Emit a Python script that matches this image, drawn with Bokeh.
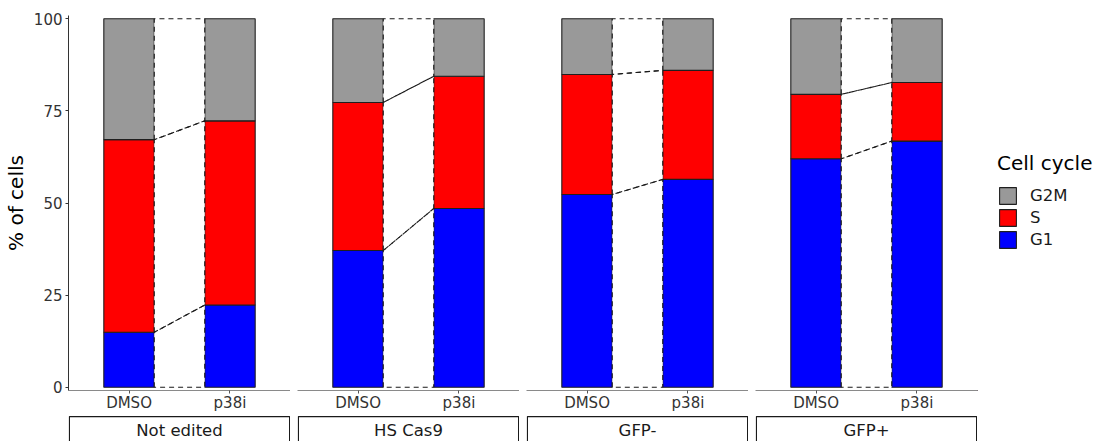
from bokeh.plotting import figure
from bokeh.layouts import row, column
from bokeh.models import Range1d, FixedTicker, Legend, LegendItem, ColumnDataSource
from bokeh.embed import file_html
from bokeh.resources import INLINE
from bokeh.core.properties import value

# ---- data -------------------------------------------------------------
panels = ["Not edited", "HS Cas9", "GFP-", "GFP+"]
treatments = ["DMSO", "p38i"]
phases = ["G1", "S", "G2M"]
phase_colors = ["#0000FF", "#FF0000", "#999999"]

# % of cells in each phase, [DMSO, p38i] per panel
g1_pct = [[14.9, 22.3], [37.1, 48.5], [52.3, 56.4], [62.0, 66.8]]
s_pct = [[52.3, 50.0], [40.2, 35.9], [32.6, 29.6], [17.5, 15.9]]
g2m_pct = [[32.8, 27.7], [22.7, 15.6], [15.1, 14.0], [20.5, 17.3]]

y_ticks = [0, 25, 50, 75, 100]

# ---- style ------------------------------------------------------------
FONT = "DejaVu Sans"
FRAME_W = 222
GAP = 7
LEFT = 68
LEGEND_W = 1100 - LEFT - 4 * FRAME_W - 3 * GAP
BAR_W = 0.5
PANEL_H = 415
STRIP_H = 441 - PANEL_H
BAR_LINE = "#1f1f1f"
x_pos = [i + 1 for i in range(len(treatments))]


def style_common(p):
    p.outline_line_color = None
    p.xgrid.visible = False
    p.ygrid.visible = False
    p.background_fill_color = "white"
    p.border_fill_color = "white"


def make_panel(k, left, show_y):
    p = figure(width=left + FRAME_W, height=PANEL_H,
               x_range=Range1d(0.4, 2.6), y_range=Range1d(-0.9, 100.9),
               output_backend="svg", toolbar_location=None,
               min_border_left=left, min_border_right=0,
               min_border_top=15, min_border_bottom=25,
               y_axis_location="left" if show_y else None)
    style_common(p)

    src = ColumnDataSource(dict(
        x=x_pos, G1=g1_pct[k], S=s_pct[k], G2M=g2m_pct[k]))
    p.vbar_stack(phases, x="x", width=BAR_W, color=phase_colors,
                 line_color=BAR_LINE, line_width=1.1, source=src)

    # flows between the two stacked bars
    xa = x_pos[0] + BAR_W / 2
    xb = x_pos[1] - BAR_W / 2
    layers = [g1_pct[k], s_pct[k], g2m_pct[k]]
    lo = [0.0, 0.0]
    xs, ys = [], []
    for layer in layers:
        hi = [lo[0] + layer[0], lo[1] + layer[1]]
        xs.append([xa, xa, xb, xb])
        ys.append([lo[0], hi[0], hi[1], lo[1]])
        lo = hi
    p.patches(xs, ys, fill_color="white", line_color=None)
    p.patches(xs, ys, fill_color=None, line_color="#1a1a1a",
              line_width=1.1, line_dash="5 4")

    # x axis
    p.xaxis.ticker = FixedTicker(ticks=x_pos)
    p.xaxis.major_label_overrides = {x: t for x, t in zip(x_pos, treatments)}
    p.xaxis.minor_tick_line_color = None
    p.xaxis.axis_line_color = "#8a8a8a"
    p.xaxis.axis_line_width = 1
    p.xaxis.major_tick_line_color = "#555555"
    p.xaxis.major_tick_in = 0
    p.xaxis.major_tick_out = 3
    p.xaxis.major_label_standoff = 0
    p.xaxis.major_label_text_font = FONT
    p.xaxis.major_label_text_font_size = "15px"
    p.xaxis.major_label_text_color = "#333333"

    if show_y:
        p.yaxis.ticker = FixedTicker(ticks=y_ticks)
        p.yaxis.minor_tick_line_color = None
        p.yaxis.axis_line_color = "#333333"
        p.yaxis.major_tick_line_color = "#333333"
        p.yaxis.major_tick_in = 0
        p.yaxis.major_tick_out = 3
        p.yaxis.major_label_standoff = 3
        p.yaxis.major_label_text_font = FONT
        p.yaxis.major_label_text_font_size = "15px"
        p.yaxis.major_label_text_color = "#333333"
        p.yaxis.axis_label = "% of cells"
        p.yaxis.axis_label_text_font = FONT
        p.yaxis.axis_label_text_font_size = "20px"
        p.yaxis.axis_label_text_font_style = "normal"
        p.yaxis.axis_label_text_color = "black"
        p.yaxis.axis_label_standoff = 3
    return p


def make_strip(name, left):
    s = figure(width=left + FRAME_W, height=STRIP_H,
               x_range=Range1d(0, 1), y_range=Range1d(0, 1),
               output_backend="svg", toolbar_location=None,
               min_border_left=left, min_border_right=0,
               min_border_top=0, min_border_bottom=0,
               x_axis_location=None, y_axis_location=None)
    style_common(s)
    s.quad(left=0.004, right=0.996, top=0.96, bottom=-0.5,
           fill_color="white", line_color="#1a1a1a", line_width=1.2)
    s.text(x=[0.5], y=[0.42], text=[name], text_align="center",
           text_baseline="middle", text_font=value(FONT),
           text_font_size="16.5px", text_color="#1A1A1A")
    return s


panel_figs, strip_figs = [], []
for k, name in enumerate(panels):
    left = LEFT if k == 0 else GAP
    panel_figs.append(make_panel(k, left, show_y=(k == 0)))
    strip_figs.append(make_strip(name, left))

# legend column to the right of the panels (top to bottom: G2M, S, G1)
leg_fig = figure(width=LEGEND_W, height=PANEL_H,
                 x_range=Range1d(0, 1), y_range=Range1d(0, 1),
                 output_backend="svg", toolbar_location=None,
                 min_border_left=0, min_border_right=0,
                 min_border_top=0, min_border_bottom=0,
                 x_axis_location=None, y_axis_location=None)
style_common(leg_fig)
# key proxies: one point each, outside the visible range of this frame
key_renderers = [leg_fig.vbar(x=[-10], top=[-10], width=BAR_W, fill_color=c,
                              line_color=BAR_LINE, line_width=1.1)
                 for c in phase_colors]
items = [LegendItem(label=phases[i], renderers=[key_renderers[i]])
         for i in reversed(range(len(phases)))]
legend = Legend(items=items, title="Cell cycle", location=(20, 140),
                border_line_color=None, background_fill_alpha=0,
                glyph_width=21, glyph_height=21, label_height=21,
                spacing=1, padding=0, margin=0, label_standoff=12,
                title_standoff=10,
                title_text_font=FONT, title_text_font_size="20px",
                title_text_font_style="normal", title_text_color="black",
                label_text_font=FONT, label_text_font_size="16.5px",
                label_text_color="#1A1A1A")
leg_fig.add_layout(legend)

legend_spacer = figure(width=LEGEND_W, height=STRIP_H,
                       output_backend="svg", toolbar_location=None,
                       min_border_left=0, min_border_right=0,
                       min_border_top=0, min_border_bottom=0,
                       x_axis_location=None, y_axis_location=None)
style_common(legend_spacer)

layout = column(row(*panel_figs, leg_fig, spacing=0),
                row(*strip_figs, legend_spacer, spacing=0),
                spacing=0)

open("out.html", "w").write(file_html(layout, INLINE))
